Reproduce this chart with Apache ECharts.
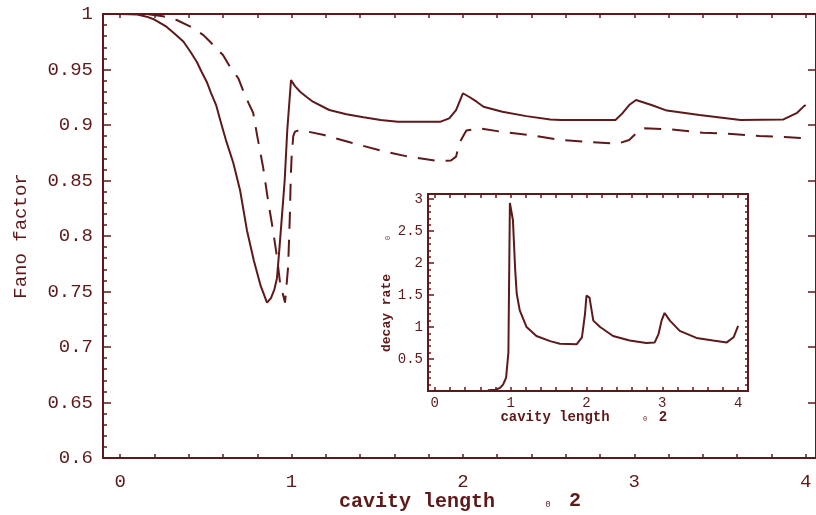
<!DOCTYPE html>
<html>
<head>
<meta charset="utf-8">
<script src="https://cdn.jsdelivr.net/npm/echarts@6/dist/echarts.min.js"></script>
<style>html,body{margin:0;padding:0;background:#fff}#main{width:816px;height:515px}</style>
</head>
<body>
<div id="main"></div>
<script>
// 主图：Fano factor，实线 / 虚线
var fanoSolid = [[0,1],[0.1,0.9995],[0.155,0.9976],[0.2,0.995],[0.27,0.9886],[0.32,0.982],[0.37,0.975],[0.41,0.966],[0.447,0.957],[0.475,0.948],[0.505,0.939],[0.53,0.929],[0.56,0.918],[0.583,0.905],[0.62,0.885],[0.66,0.866],[0.7,0.841],[0.74,0.805],[0.78,0.778],[0.82,0.755],[0.857,0.74],[0.88,0.744],[0.9,0.752],[0.915,0.762],[0.93,0.79],[0.945,0.82],[0.96,0.85],[0.975,0.895],[0.997,0.9405],[1.02,0.935],[1.05,0.93],[1.09,0.925],[1.125,0.921],[1.22,0.9135],[1.32,0.9096],[1.42,0.907],[1.52,0.9045],[1.62,0.903],[1.87,0.903],[1.92,0.906],[1.96,0.9135],[2.0,0.9286],[2.04,0.925],[2.08,0.921],[2.12,0.9165],[2.23,0.912],[2.37,0.908],[2.51,0.905],[2.57,0.9045],[2.89,0.9045],[2.93,0.9105],[2.97,0.918],[3.01,0.9225],[3.1,0.918],[3.19,0.913],[3.38,0.909],[3.62,0.9045],[3.87,0.905],[3.95,0.911],[3.99,0.917],[4.0,0.918]];
var fanoDashed = [[0,1],[0.15,1],[0.25,0.998],[0.33,0.9946],[0.41,0.9886],[0.486,0.981],[0.525,0.975],[0.56,0.969],[0.6,0.963],[0.64,0.9525],[0.69,0.942],[0.72,0.93],[0.75,0.9195],[0.776,0.911],[0.8,0.89],[0.834,0.862],[0.863,0.832],[0.892,0.805],[0.915,0.781],[0.933,0.758],[0.962,0.74],[0.98,0.772],[0.99,0.817],[0.995,0.85],[1.0,0.87],[1.01,0.89],[1.02,0.894],[1.05,0.8955],[1.19,0.891],[1.35,0.884],[1.52,0.877],[1.68,0.8715],[1.85,0.8676],[1.93,0.868],[1.96,0.8715],[1.98,0.884],[2.02,0.895],[2.1,0.897],[2.22,0.894],[2.39,0.891],[2.57,0.8865],[2.72,0.885],[2.9,0.883],[2.97,0.8865],[3.03,0.8955],[3.06,0.897],[3.22,0.896],[3.4,0.893],[3.57,0.892],[3.73,0.89],[3.9,0.889],[4.0,0.888]];
// 小图：decay rate
var decayRate = [[0.7,0.01],[0.8,0.02],[0.86,0.05],[0.9,0.1],[0.94,0.21],[0.97,0.6],[0.99,2.94],[1.03,2.67],[1.06,1.89],[1.08,1.52],[1.12,1.26],[1.21,1.0],[1.34,0.86],[1.52,0.78],[1.65,0.74],[1.87,0.73],[1.94,0.84],[1.98,1.2],[2.0,1.49],[2.04,1.46],[2.09,1.1],[2.18,1.0],[2.35,0.86],[2.57,0.79],[2.79,0.75],[2.9,0.76],[2.95,0.89],[2.99,1.1],[3.03,1.22],[3.1,1.1],[3.23,0.94],[3.45,0.83],[3.67,0.79],[3.85,0.76],[3.94,0.84],[4.0,1.02]];

// 刻度
var xLabels = [0, 1, 2, 3, 4];
var fanoLabels = [0.6, 0.65, 0.7, 0.75, 0.8, 0.85, 0.9, 0.95, 1];
var decayLabels = [0.5, 1, 1.5, 2, 2.5, 3];

function steps(a, b, d) {
    var r = [];
    for (var v = a; v <= b + 1e-9; v += d) r.push(Math.round(v * 1000) / 1000);
    return r;
}
var xMinor = steps(0, 4, 0.2);
var fanoMinor = steps(0.6, 1, 0.01);
var decayMinor = steps(0.1, 3, 0.1);

var C = '#5e1a1a';
var myChart = echarts.init(document.getElementById('main'));

function xAx(grid, min, max, pos, labels, fs, margin) {
    return {
        type: 'value', gridIndex: grid, min: min, max: max, position: pos,
        axisLine: {show: false, onZero: false},
        splitLine: {show: false},
        axisTick: {show: true, inside: true, length: 4, customValues: xMinor, lineStyle: {color: C, width: 1.5}},
        axisLabel: {show: !!labels, customValues: labels || [], margin: margin || 8, color: C,
            fontFamily: 'Liberation Mono', fontSize: fs || 12}
    };
}
function yAx(grid, min, max, pos, ticks, len, labels, fs, margin) {
    return {
        type: 'value', gridIndex: grid, min: min, max: max, position: pos,
        axisLine: {show: false, onZero: false},
        splitLine: {show: false},
        axisTick: {show: true, inside: true, length: len, customValues: ticks, lineStyle: {color: C, width: 1.5}},
        axisLabel: {show: !!labels, customValues: labels || [], margin: margin || 6, color: C,
            fontFamily: 'Liberation Mono', fontSize: fs || 12}
    };
}

var option = {
    backgroundColor: '#fff',
    animation: false,
    grid: [
        {left: 103, top: 14, width: 713, height: 444, show: true, borderColor: C, borderWidth: 2, backgroundColor: 'transparent'},
        {left: 428, top: 194, width: 320, height: 197, show: true, borderColor: C, borderWidth: 2, backgroundColor: '#fff'}
    ],
    xAxis: [
        xAx(0, -0.1, 4.06, 'bottom', xLabels, 19, 14),
        xAx(0, -0.1, 4.06, 'top'),
        xAx(1, -0.09, 4.13, 'bottom', xLabels, 14, 5),
        xAx(1, -0.09, 4.13, 'top')
    ],
    yAxis: [
        yAx(0, 0.6, 1, 'left', fanoLabels, 8, fanoLabels, 19, 10),
        yAx(0, 0.6, 1, 'left', fanoMinor, 4),
        yAx(0, 0.6, 1, 'right', fanoLabels, 8),
        yAx(1, 0, 3.08, 'left', decayLabels, 6, decayLabels, 14, 5),
        yAx(1, 0, 3.08, 'left', decayMinor, 3),
        yAx(1, 0, 3.08, 'right', decayMinor, 3)
    ],
    series: [
        {type: 'line', xAxisIndex: 0, yAxisIndex: 0, data: fanoSolid, showSymbol: false,
            lineStyle: {color: C, width: 2}},
        {type: 'line', xAxisIndex: 0, yAxisIndex: 0, data: fanoDashed, showSymbol: false,
            lineStyle: {color: C, width: 2, type: [17, 11]}},
        {type: 'line', xAxisIndex: 2, yAxisIndex: 3, data: decayRate, showSymbol: false,
            lineStyle: {color: C, width: 2}}
    ],
    graphic: [
        {type: 'text', x: 21, y: 236, rotation: Math.PI / 2,
            style: {text: 'Fano factor', fill: C, font: '19px "Liberation Mono"', align: 'center', verticalAlign: 'middle'}},
        {type: 'text', x: 417, y: 502,
            style: {text: 'cavity length', fill: C, font: 'bold 20px "Liberation Mono"', align: 'center', verticalAlign: 'middle'}},
        {type: 'text', x: 548, y: 505,
            style: {text: '0', fill: C, font: '9px "Liberation Mono"', align: 'center', verticalAlign: 'middle'}},
        {type: 'text', x: 575, y: 501,
            style: {text: '2', fill: C, font: 'bold 20px "Liberation Mono"', align: 'center', verticalAlign: 'middle'}},
        {type: 'text', x: 387, y: 313, rotation: Math.PI / 2,
            style: {text: 'decay rate', fill: C, font: 'bold 13px "Liberation Mono"', align: 'center', verticalAlign: 'middle'}},
        {type: 'text', x: 388, y: 238, rotation: Math.PI / 2,
            style: {text: '0', fill: C, font: '7px "Liberation Mono"', align: 'center', verticalAlign: 'middle'}},
        {type: 'text', x: 555, y: 417,
            style: {text: 'cavity length', fill: C, font: 'bold 14px "Liberation Mono"', align: 'center', verticalAlign: 'middle'}},
        {type: 'text', x: 645, y: 419,
            style: {text: '0', fill: C, font: '7px "Liberation Mono"', align: 'center', verticalAlign: 'middle'}},
        {type: 'text', x: 663, y: 417,
            style: {text: '2', fill: C, font: 'bold 14px "Liberation Mono"', align: 'center', verticalAlign: 'middle'}}
    ]
};
myChart.setOption(option);
</script>
</body>
</html>
